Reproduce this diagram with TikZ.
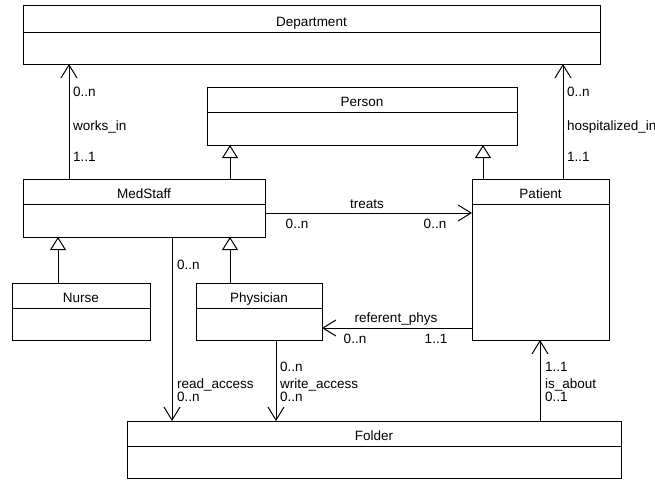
\documentclass[tikz,border=0pt]{standalone}
\usepackage{fontspec}
\setmainfont{Liberation Sans}
\usetikzlibrary{arrows.meta}
\begin{document}
\begin{tikzpicture}[x=1pt,y=-1pt,
  box/.style={draw=black, line width=1pt, inner sep=0pt, outer sep=0pt, anchor=north west},
  title/.style={anchor=base, inner sep=0pt, font=\fontsize{13.5}{14}\selectfont},
  lab/.style={anchor=base west, inner sep=0pt, font=\fontsize{13.5}{14}\selectfont},
  labc/.style={anchor=base, inner sep=0pt, font=\fontsize{13.5}{14}\selectfont},
  assoc/.style={draw=black, line width=1pt, -{Straight Barb[length=13pt,width=16pt,line width=1pt]}},
  inherit/.style={draw=black, line width=1pt, -{Triangle[open,length=13pt,width=16pt,line width=1pt]}},
  divider/.style={draw=black, line width=1pt}
]
\useasboundingbox (0,0) rectangle (655,479);
\fill[white] (0,0) rectangle (655,479);

% classes
\node[box, minimum width=577pt, minimum height=59pt] (dept) at (23,5) {};
\draw[divider] ([yshift=-27pt]dept.north west) -- ([yshift=-27pt]dept.north east);
\node[title] (deptT) at ([yshift=-22pt]dept.north) {Department};

\node[box, minimum width=310pt, minimum height=58pt] (person) at (207,87) {};
\draw[divider] ([yshift=-25pt]person.north west) -- ([yshift=-25pt]person.north east);
\node[title] (personT) at ([yshift=-19pt]person.north) {Person};

\node[box, minimum width=242pt, minimum height=58pt] (ms) at (23,179) {};
\draw[divider] ([yshift=-25pt]ms.north west) -- ([yshift=-25pt]ms.north east);
\node[title] (msT) at ([yshift=-19pt]ms.north) {MedStaff};

\node[box, minimum width=137pt, minimum height=161pt] (pat) at (472,179) {};
\draw[divider] ([yshift=-25pt]pat.north west) -- ([yshift=-25pt]pat.north east);
\node[title] (patT) at ([yshift=-19pt]pat.north) {Patient};

\node[box, minimum width=138pt, minimum height=57pt] (nurse) at (12,283) {};
\draw[divider] ([yshift=-25pt]nurse.north west) -- ([yshift=-25pt]nurse.north east);
\node[title] (nurseT) at ([yshift=-19pt]nurse.north) {Nurse};

\node[box, minimum width=126pt, minimum height=57pt] (phys) at (196,283) {};
\draw[divider] ([yshift=-25pt]phys.north west) -- ([yshift=-25pt]phys.north east);
\node[title] (physT) at ([yshift=-19pt]phys.north) {Physician};

\node[box, minimum width=494pt, minimum height=57pt] (folder) at (127,421) {};
\draw[divider] ([yshift=-25pt]folder.north west) -- ([yshift=-25pt]folder.north east);
\node[title] (folderT) at ([yshift=-19pt]folder.north) {Folder};

% generalisations
\draw[inherit] (230,0 |- ms.north) -- (230,0 |- person.south);
\draw[inherit] (483,0 |- pat.north) -- (483,0 |- person.south);
\draw[inherit] (58,0 |- nurse.north) -- (58,0 |- ms.south);
\draw[inherit] (230,0 |- phys.north) -- (230,0 |- ms.south);

% associations
\draw[assoc] (69,0 |- ms.north) -- (69,0 |- dept.south);
\node[lab] (w1) at (73,96) {0..n};
\node[lab] (w2) at (73,130) {works\_in};
\node[lab] (w3) at (73,161) {1..1};

\draw[assoc] (563,0 |- pat.north) -- (563,0 |- dept.south);
\node[lab] (h1) at (567,96) {0..n};
\node[lab] (h2) at (567,130) {hospitalized\_in};
\node[lab] (h3) at (567,161) {1..1};

\draw[assoc] (ms.east |- 0,213) -- (pat.west |- 0,213);
\node[labc] (t1) at (367,208) {treats};
\node[labc] (t2) at (297,228) {0..n};
\node[labc] (t3) at (435,228) {0..n};

\draw[assoc] (pat.west |- 0,328) -- (phys.east |- 0,328);
\node[labc] (r1) at (396,322) {referent\_phys};
\node[labc] (r2) at (355,343) {0..n};
\node[labc] (r3) at (436,343) {1..1};

\draw[assoc] (172,0 |- ms.south) -- (172,0 |- folder.north);
\node[lab] (a1) at (177,269) {0..n};
\node[lab] (a2) at (177,388) {read\_access};
\node[lab] (a3) at (177,401) {0..n};

\draw[assoc] (276,0 |- phys.south) -- (276,0 |- folder.north);
\node[lab] (b1) at (280,371) {0..n};
\node[lab] (b2) at (280,388) {write\_access};
\node[lab] (b3) at (280,401) {0..n};

\draw[assoc] (540,0 |- folder.north) -- (540,0 |- pat.south);
\node[lab] (c1) at (545,371) {1..1};
\node[lab] (c2) at (545,388) {is\_about};
\node[lab] (c3) at (545,401) {0..1};
\end{tikzpicture}
\end{document}
